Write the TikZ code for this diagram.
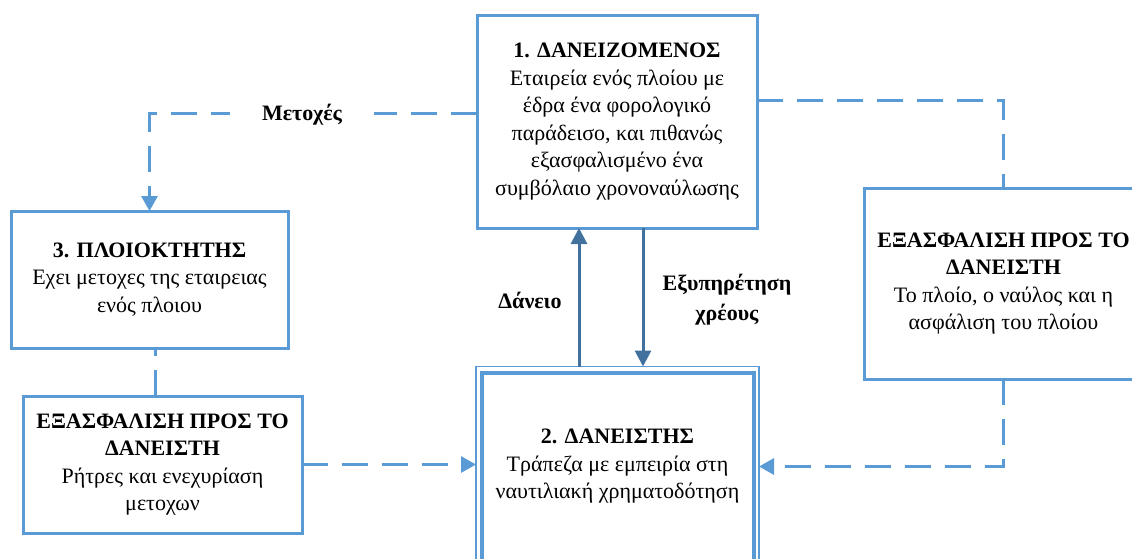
\documentclass[tikz,border=0pt]{standalone}
\usepackage{fontspec}
\setmainfont{Liberation Serif}
\usetikzlibrary{arrows.meta}
\definecolor{boxblue}{HTML}{5B9BD5}
\definecolor{arrblue}{HTML}{41719C}
\begin{document}
\begin{tikzpicture}[x=1pt,y=-1pt,
  box/.style={draw=boxblue,line width=3pt,inner sep=0pt,outer sep=0pt,align=center,
    font=\fontsize{22}{27.5}\selectfont},
  dashline/.style={draw=boxblue,line width=3pt,dash pattern=on 26pt off 14pt},
  dtip/.style={-{Triangle[length=15pt,width=16pt]}},
  solidarr/.style={draw=arrblue,line width=3pt,-{Triangle[length=16pt,width=16pt]}},
  lbl/.style={font=\bfseries\fontsize{22}{30}\selectfont,align=center}]
\useasboundingbox (0,0) rectangle (1132,558);
\clip (0,0) rectangle (1132,558);
% boxes
\node[box,minimum width=280pt,minimum height=213pt] (b1) at (617,121.5)
  {\textbf{1. ΔΑΝΕΙΖΟΜΕΝΟΣ}\\Εταιρεία ενός πλοίου με\\έδρα ένα φορολογικό\\παράδεισο, και πιθανώς\\εξασφαλισμένο ένα\\συμβόλαιο χρονοναύλωσης};
\node[box,line width=1.2pt,minimum width=283pt,minimum height=200pt] (b2) at (617.5,466.5)
  {\textbf{2. ΔΑΝΕΙΣΤΗΣ}\\Τράπεζα με εμπειρία στη\\ναυτιλιακή χρηματοδότηση};
\draw[draw=boxblue,line width=4pt] ([shift={(6pt,-6pt)}]b2.north west) rectangle ([shift={(-5pt,6pt)}]b2.south east);
\node[box,minimum width=277pt,minimum height=137pt] (b3) at (149.5,279.5)
  {\textbf{3. ΠΛΟΙΟΚΤΗΤΗΣ}\\Εχει μετοχες της εταιρειας\\ενός πλοιου};
\node[box,minimum width=279pt,minimum height=137pt] (b4) at (162.5,464.5)
  {\textbf{ΕΞΑΣΦΑΛΙΣΗ ΠΡΟΣ ΤΟ}\\\textbf{ΔΑΝΕΙΣΤΗ}\\Ρήτρες και ενεχυρίαση\\μετοχων};
\node[box,minimum width=279pt,minimum height=191pt] (b5) at (1003.5,283.5)
  {\textbf{ΕΞΑΣΦΑΛΙΣΗ ΠΡΟΣ ΤΟ}\\\textbf{ΔΑΝΕΙΣΤΗ}\\Το πλοίο, ο ναύλος και η\\ασφάλιση του πλοίου};
% helper coordinates
\coordinate (y113) at (0,113);
\coordinate (y100) at (0,100);
\coordinate (x155) at (155,0);
\coordinate (x579) at (579,0);
\coordinate (x643) at (643,0);
% dashed connectors
\draw[dashline,dtip] (b1.west |- y113) -| (b3.north);
\node[lbl,fill=white,inner xsep=32pt,inner ysep=4pt] (lm) at (302,115) {Μετοχές};
\draw[dashline] (b1.east |- y100) -| (b5.north);
\draw[dashline,dtip] (b5.south) |- (b2.east);
\draw[dashline] (b4.north -| x155) -- (b3.south -| x155);
\draw[dashline,dtip] (b4.east) -- (b2.west |- b4.east);
% solid arrows
\draw[solidarr] (b2.north -| x579) -- (b1.south -| x579);
\draw[solidarr] (b1.south -| x643) -- (b2.north -| x643);
\node[lbl] (ld) at (530,300) {Δάνειο};
\node[lbl] (le) at (727,300) {Εξυπηρέτηση\\χρέους};
\end{tikzpicture}
\end{document}
